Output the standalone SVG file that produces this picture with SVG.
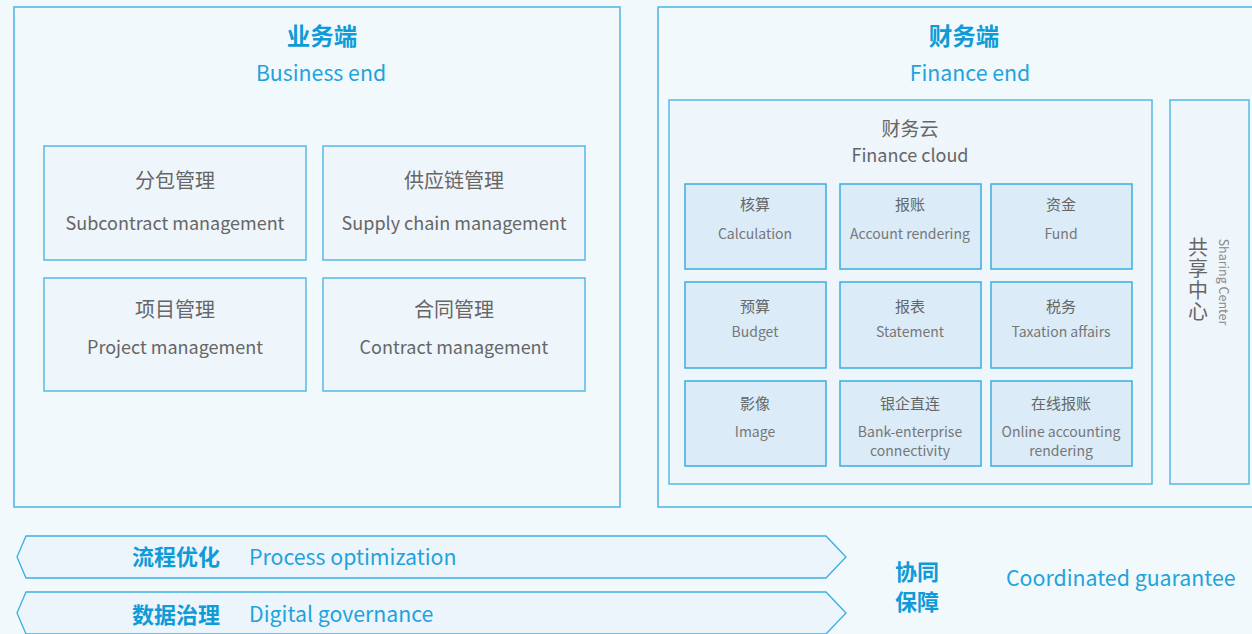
<svg xmlns="http://www.w3.org/2000/svg" width="1252" height="634" viewBox="0 0 1252 634">
<style>
.bg{fill:#f2f9fd}
.outer{fill:#f2f9fd;stroke:#4bb4e2;stroke-width:1.5}
.box{fill:#eef5fb;stroke:#55b9e6;stroke-width:1.5}
.cell{fill:#dbebf7;stroke:#3aaee0;stroke-width:1.5}
.band{fill:#edf5fc;stroke:#3aaee0;stroke-width:1.3}
text{font-family:"Noto Sans CJK SC","Noto Sans",sans-serif;text-anchor:middle}
.t1{font-size:23.5px;font-weight:bold;fill:#0f9bd7}
.t2{font-size:21.3px;fill:#1ea3dc}
.n1{font-size:20px;fill:#666}
.n2{font-size:18px;fill:#666}
.c1{font-size:15px;fill:#666}
.c2{font-size:14px;fill:#777}
.b1{font-size:22px;font-weight:bold;fill:#0f9bd7;text-anchor:start}
.b2{font-size:21.3px;fill:#1ea3dc;text-anchor:start}
</style>
<rect class="bg" x="0" y="0" width="1252" height="634"/>
<g id="business">
<rect class="outer" x="14" y="7" width="606" height="500"/>
<text class="t1" x="322" y="45">业务端</text>
<text class="t2" x="321" y="81">Business end</text>
</g>
<g id="subcontract"><rect class="box" x="44" y="146" width="262" height="114"/><text class="n1" x="175" y="188">分包管理</text><text class="n2" x="175" y="230">Subcontract management</text></g>
<g id="supply"><rect class="box" x="323" y="146" width="262" height="114"/><text class="n1" x="454" y="188">供应链管理</text><text class="n2" x="454" y="230">Supply chain management</text></g>
<g id="project"><rect class="box" x="44" y="278" width="262" height="113"/><text class="n1" x="175" y="317">项目管理</text><text class="n2" x="175" y="354">Project management</text></g>
<g id="contract"><rect class="box" x="323" y="278" width="262" height="113"/><text class="n1" x="454" y="317">合同管理</text><text class="n2" x="454" y="354">Contract management</text></g>
<g id="finance">
<rect class="outer" x="658" y="7" width="600" height="500"/>
<text class="t1" x="964" y="45">财务端</text>
<text class="t2" x="970" y="81">Finance end</text>
</g>
<g id="financecloud">
<rect class="box" x="669" y="100" width="483" height="384"/>
<text class="n1" x="910" y="136" style="font-size:19px">财务云</text>
<text class="n2" x="910" y="162">Finance cloud</text>
</g>
<g id="calc"><rect class="cell" x="685" y="184" width="141" height="85"/><text class="c1" x="755" y="210">核算</text><text class="c2" x="755" y="239">Calculation</text></g>
<g id="account"><rect class="cell" x="840" y="184" width="141" height="85"/><text class="c1" x="910" y="210">报账</text><text class="c2" x="910" y="239">Account rendering</text></g>
<g id="fund"><rect class="cell" x="991" y="184" width="141" height="85"/><text class="c1" x="1061" y="210">资金</text><text class="c2" x="1061" y="239">Fund</text></g>
<g id="budget"><rect class="cell" x="685" y="282" width="141" height="86"/><text class="c1" x="755" y="312">预算</text><text class="c2" x="755" y="337">Budget</text></g>
<g id="statement"><rect class="cell" x="840" y="282" width="141" height="86"/><text class="c1" x="910" y="312">报表</text><text class="c2" x="910" y="337">Statement</text></g>
<g id="tax"><rect class="cell" x="991" y="282" width="141" height="86"/><text class="c1" x="1061" y="312">税务</text><text class="c2" x="1061" y="337">Taxation affairs</text></g>
<g id="image"><rect class="cell" x="685" y="381" width="141" height="85"/><text class="c1" x="755" y="409">影像</text><text class="c2" x="755" y="437">Image</text></g>
<g id="bank"><rect class="cell" x="840" y="381" width="141" height="85"/><text class="c1" x="910" y="409">银企直连</text><text class="c2" x="910" y="437">Bank-enterprise</text><text class="c2" x="910" y="456">connectivity</text></g>
<g id="online"><rect class="cell" x="991" y="381" width="141" height="85"/><text class="c1" x="1061" y="409">在线报账</text><text class="c2" x="1061" y="437">Online accounting</text><text class="c2" x="1061" y="456">rendering</text></g>
<g id="sharing">
<rect class="box" x="1170" y="100" width="79" height="384"/>
<text class="n1" x="1198" y="237" style="writing-mode:vertical-rl;text-anchor:start;font-size:20px;letter-spacing:1.5px">共享中心</text>
<text x="1224" y="282" transform="rotate(90 1224 282)" style="font-size:12.5px;fill:#888;dominant-baseline:central">Sharing Center</text>
</g>
<g id="process">
<path class="band" d="M26 536 L826 536 L846 557 L826 578 L26 578 L17 557 Z"/>
<text class="b1" x="132" y="565">流程优化</text>
<text class="b2" x="249" y="565">Process optimization</text>
</g>
<g id="digital">
<path class="band" d="M26 592 L826 592 L846 613 L826 634 L26 634 L17 613 Z"/>
<text class="b1" x="132" y="623">数据治理</text>
<text class="b2" x="249" y="622">Digital governance</text>
</g>
<g id="coordinated">
<text class="b1" x="895" y="580">协同</text>
<text class="b1" x="895" y="610">保障</text>
<text class="b2" x="1006" y="586">Coordinated guarantee</text>
</g>
<g id="connectors"></g>
</svg>
